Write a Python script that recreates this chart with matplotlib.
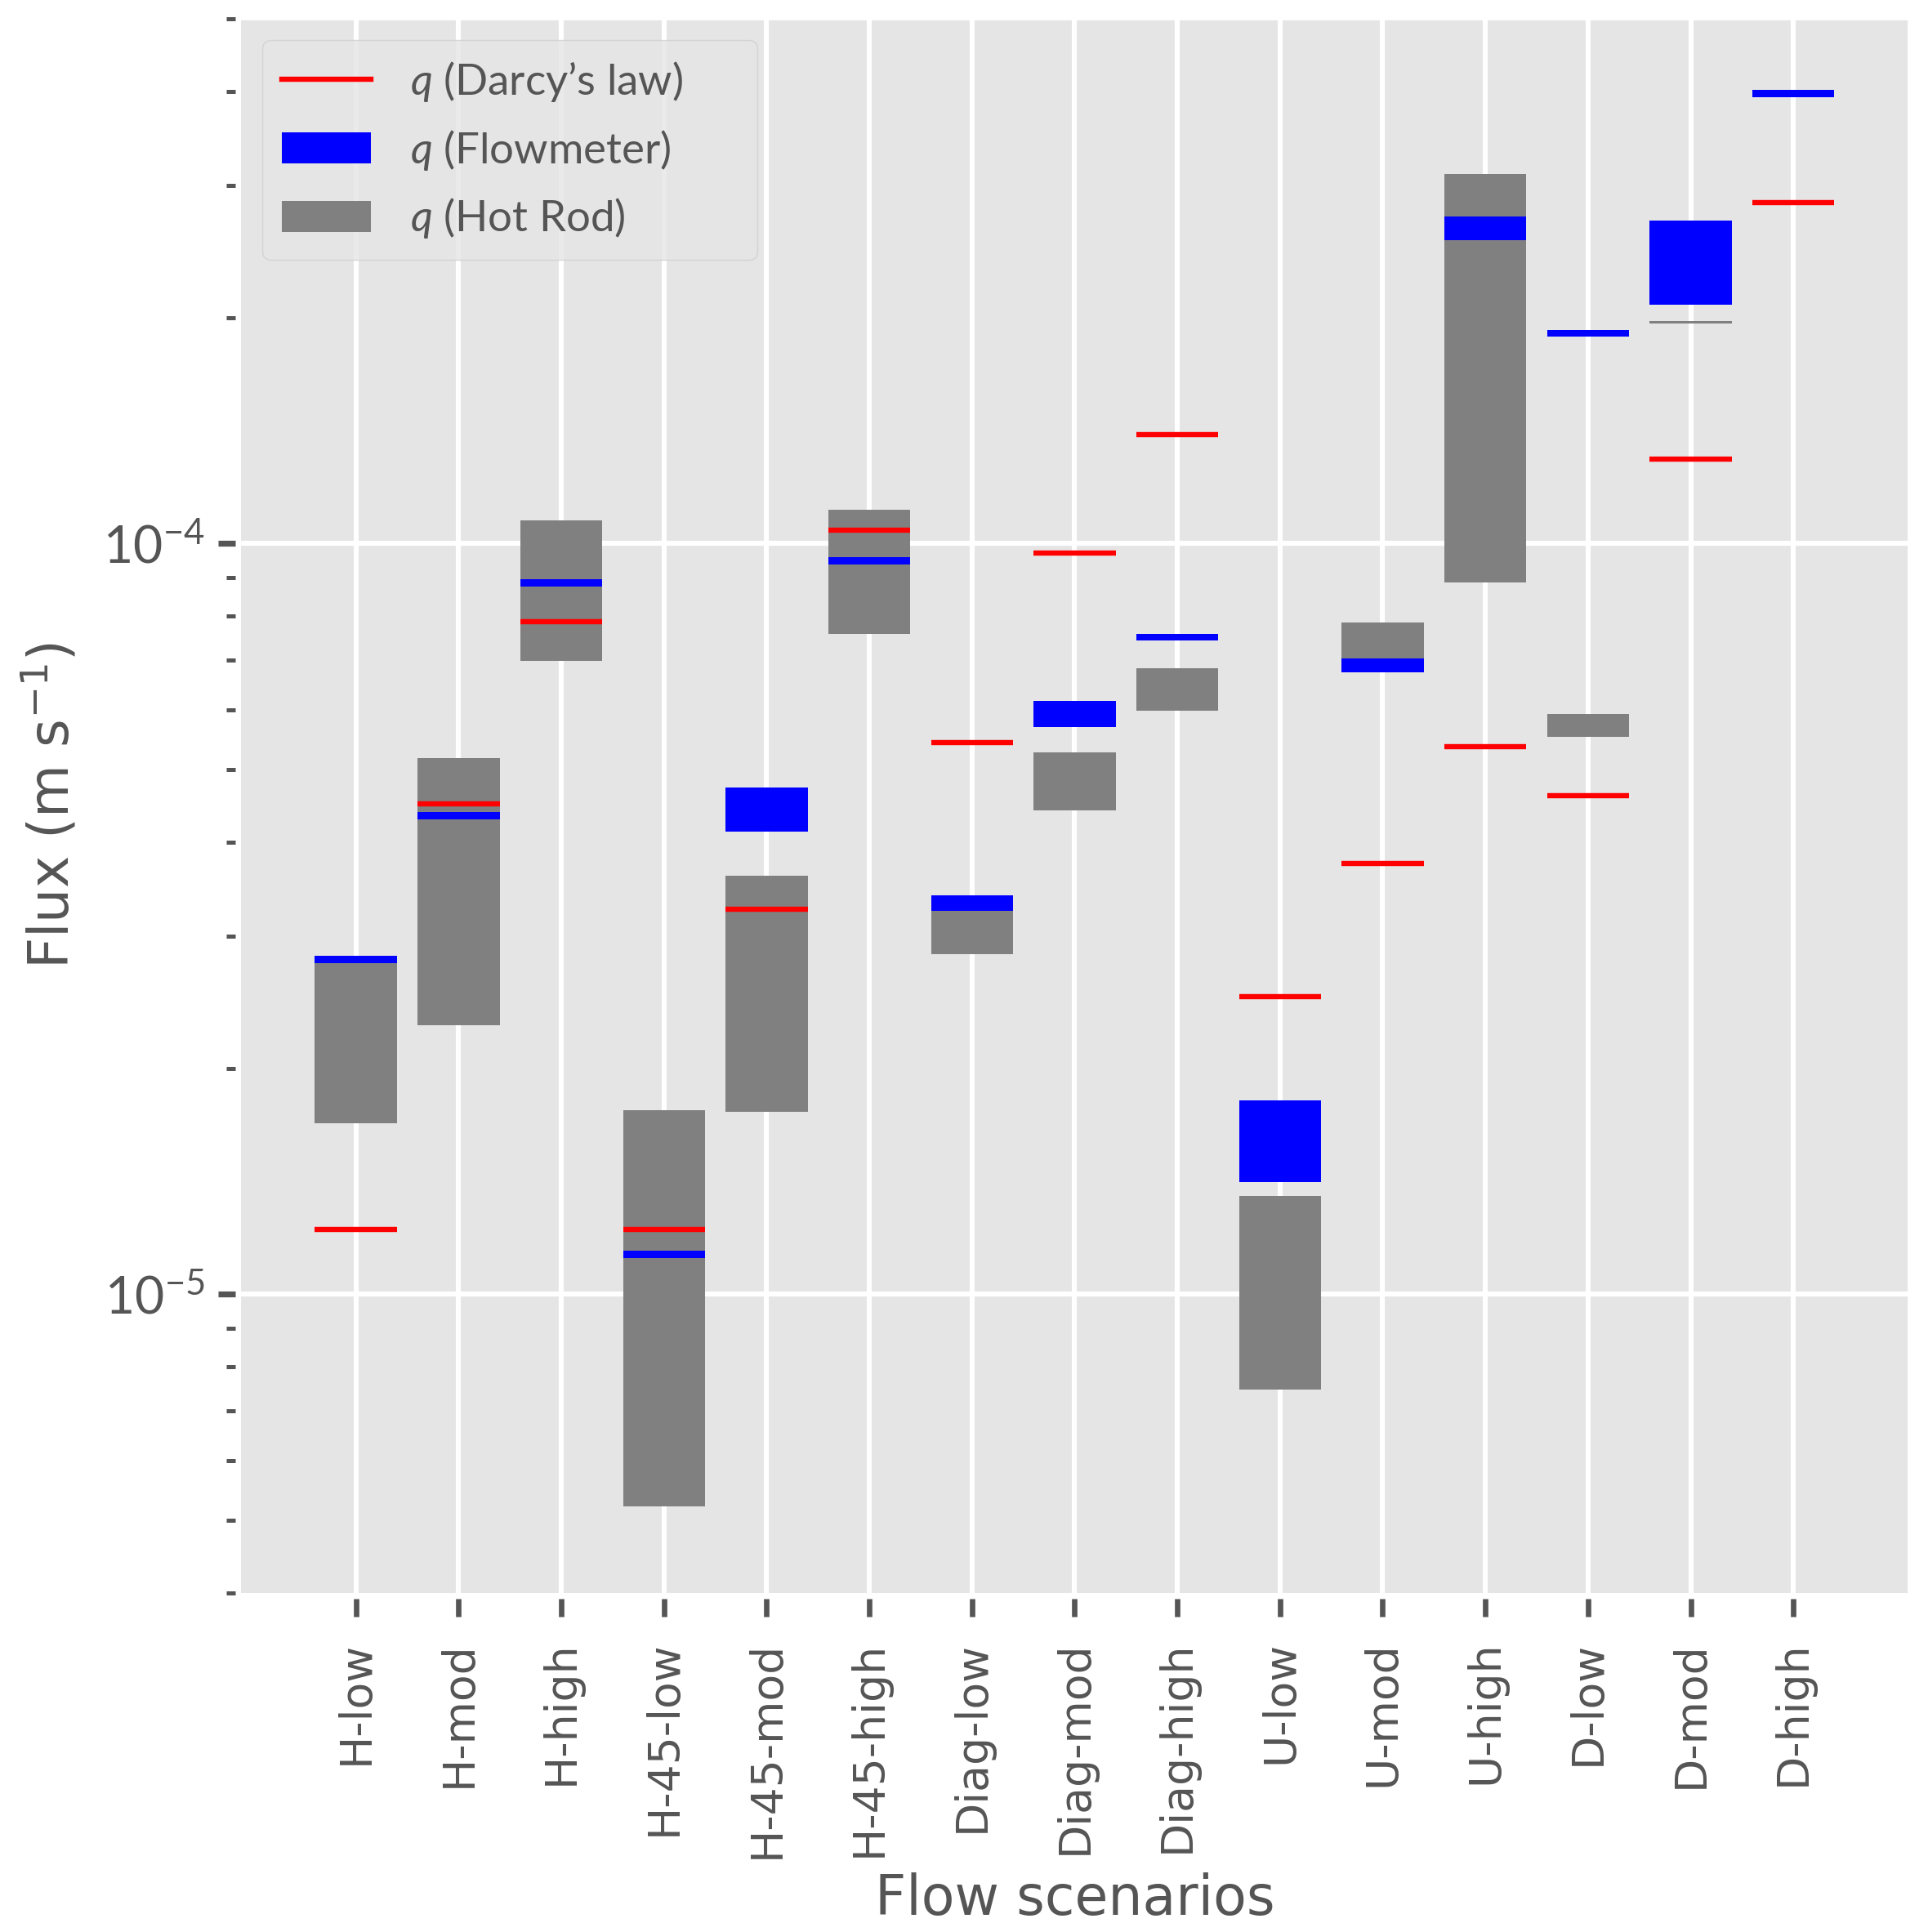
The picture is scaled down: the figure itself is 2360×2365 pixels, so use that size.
import numpy as np
import matplotlib
matplotlib.use("Agg")
import matplotlib.pyplot as plt
from matplotlib.lines import Line2D
from matplotlib.patches import Patch
from matplotlib.ticker import LogLocator, NullFormatter

# ---- data ----
scenarios = ["H-low", "H-mod", "H-high", "H-45-low", "H-45-mod", "H-45-high",
             "Diag-low", "Diag-mod", "Diag-high", "U-low", "U-mod", "U-high",
             "D-low", "D-mod", "D-high"]

# Darcy's law (single value)
darcy = [1.22e-5, 4.50e-5, 7.87e-5, 1.22e-5, 3.26e-5, 1.042e-4,
         5.43e-5, 9.71e-5, 1.398e-4, 2.49e-5, 3.75e-5, 5.36e-5,
         4.61e-5, 1.295e-4, 2.846e-4]

# Flowmeter range (low / high)
flow_lo = [2.76e-5, 4.29e-5, 8.77e-5, 1.118e-5, 4.13e-5, 9.38e-5,
           3.24e-5, 5.69e-5, 7.42e-5, 1.41e-5, 6.73e-5, 2.534e-4,
           1.886e-4, 2.081e-4, 3.93e-4]
flow_hi = [2.82e-5, 4.39e-5, 8.96e-5, 1.142e-5, 4.73e-5, 9.58e-5,
           3.40e-5, 6.17e-5, 7.58e-5, 1.81e-5, 7.03e-5, 2.729e-4,
           1.926e-4, 2.69e-4, 4.02e-4]

# Hot Rod range (low / high), none for D-high
hot_lo = [1.69e-5, 2.28e-5, 6.98e-5, 5.21e-6, 1.75e-5, 7.57e-5,
          2.84e-5, 4.41e-5, 5.98e-5, 7.46e-6, 6.9e-5, 8.87e-5,
          5.52e-5, 1.963e-4, np.nan]
hot_hi = [2.76e-5, 5.18e-5, 1.074e-4, 1.76e-5, 3.61e-5, 1.109e-4,
          3.24e-5, 5.27e-5, 6.82e-5, 1.35e-5, 7.84e-5, 3.108e-4,
          5.93e-5, 1.977e-4, np.nan]

# ---- style ----
plt.style.use("ggplot")
plt.rcParams.update({
    "mathtext.fontset": "custom",
    "mathtext.rm": "Lato",
    "mathtext.it": "Lato:italic",
    "mathtext.bf": "Lato:bold",
})

x = np.arange(len(scenarios))
width = 0.8

hot_lo = np.array(hot_lo)
hot_hi = np.array(hot_hi)
flow_lo = np.array(flow_lo)
flow_hi = np.array(flow_hi)
ok = ~np.isnan(hot_lo)

fig = plt.figure(figsize=(11.8, 11.825), dpi=200)
ax = fig.add_axes([0.125, 0.1755, 0.8648, 0.8148])

# little gap between the plot area and the tick marks
# (do this first: moving a spine resets the ticks)
for side in ["left", "bottom"]:
    ax.spines[side].set_position(("outward", 2.4))
    ax.spines[side].set_visible(False)

ax.bar(x[ok], hot_hi[ok] - hot_lo[ok], bottom=hot_lo[ok], width=width,
       color="#808080", zorder=2)
ax.bar(x, flow_hi - flow_lo, bottom=flow_lo, width=width,
       color="#0000ff", zorder=3)
ax.hlines(darcy, x - width / 2, x + width / 2, color="#ff0000",
          linewidth=2.3, zorder=4)

ax.set_yscale("log")
ax.set_ylim(4e-6, 5e-4)
ax.set_xlim(-1.12, 15.12)

# ---- ticks ----
ax.set_xticks(x)
ax.set_xticklabels(scenarios, rotation=90, fontsize=19.3,
                   fontfamily="DejaVu Sans", color="#555555")
ax.set_yticks([1e-5, 1e-4])
ax.set_yticklabels([r"$\mathdefault{10^{-5}}$", r"$\mathdefault{10^{-4}}$"],
                   fontsize=22.5, fontfamily="Lato", color="#555555")
ax.yaxis.set_minor_locator(LogLocator(base=10, subs=np.arange(2, 10)))
ax.yaxis.set_minor_formatter(NullFormatter())

ax.tick_params(axis="x", which="major", length=7.8, width=2.4,
               color="#555555", pad=11)
ax.tick_params(axis="y", which="major", length=7.5, width=2.6,
               color="#555555", pad=6)
ax.tick_params(axis="y", which="minor", length=4, width=1.8,
               color="#555555")
ax.tick_params(axis="x", which="minor", bottom=False)

ax.grid(which="major", color="white", linewidth=2.2)
ax.grid(which="minor", visible=False)

ax.set_xlabel("Flow scenarios", fontsize=24, color="#555555",
              fontfamily="DejaVu Sans", labelpad=6)
ax.set_ylabel(r"Flux (m s$\mathdefault{^{-1}}$)", fontsize=24,
              color="#555555", fontfamily="DejaVu Sans", labelpad=10)

# ---- legend ----
handles = [
    Line2D([], [], color="#ff0000", linewidth=2.3),
    Patch(facecolor="#0000ff"),
    Patch(facecolor="#808080"),
]
labels = [r"$q$ (Darcy’s law)", r"$q$ (Flowmeter)", r"$q$ (Hot Rod)"]
ax.legend(handles, labels, loc="upper left", mode="expand",
          bbox_to_anchor=(0, 0, 0.3224, 1),
          prop={"family": "Lato", "size": 19},
          handlelength=2.06, handleheight=0.72, handletextpad=0.92,
          labelspacing=0.56, borderaxespad=0.5, borderpad=0.45,
          facecolor="#e5e5e5", edgecolor="#cfcfcf", labelcolor="#555555")

fig.savefig("out.png", dpi=200)
